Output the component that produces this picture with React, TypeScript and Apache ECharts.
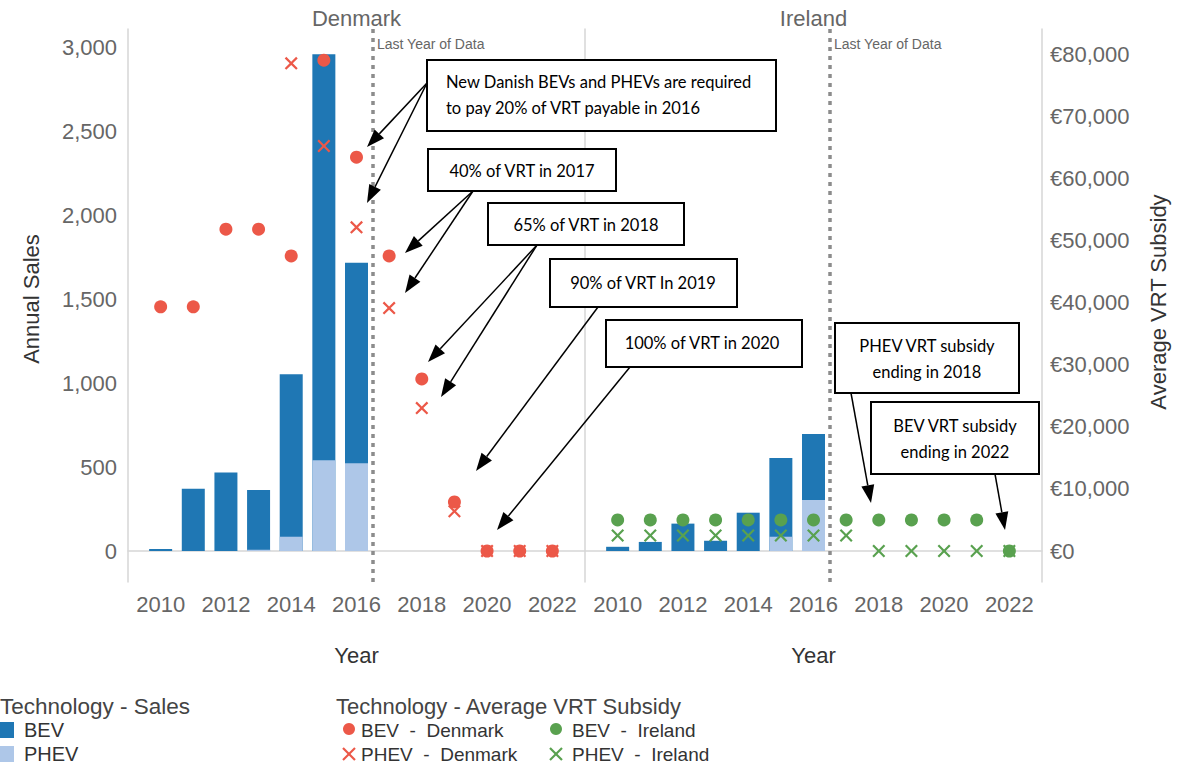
import React, { useEffect, useRef } from 'react';
import * as echarts from 'echarts';

// ---------- data ----------
const salesYears = [2010, 2011, 2012, 2013, 2014, 2015, 2016];
const dkBevSales = [12, 371, 468, 355, 967, 2417, 1194];
const dkPhevSales = [0, 0, 0, 8, 85, 540, 522];
const ieBevSales = [25, 54, 163, 61, 228, 469, 392];
const iePhevSales = [0, 0, 0, 0, 0, 85, 304];

const subsidyYears = [2010, 2011, 2012, 2013, 2014, 2015, 2016, 2017, 2018, 2019, 2020, 2021, 2022];
const dkBevSubsidy = [39300, 39300, 51800, 51800, 47500, 79000, 63400, 47500, 27700, 7900, 0, 0, 0];
const dkPhevSubsidy = [null, null, null, null, 78500, 65200, 52100, 39100, 23000, 6400, 0, 0, 0];
const ieBevSubsidy = [5000, 5000, 5000, 5000, 5000, 5000, 5000, 5000, 5000, 5000, 5000, 5000, 0];
const iePhevSubsidy = [2500, 2500, 2500, 2500, 2500, 2500, 2500, 2500, 0, 0, 0, 0, 0];

const lastDataYear = 2016.5;
const panelNames = ['Denmark', 'Ireland'];
const yearMin = 2009;
const yearMax = 2023;
const salesMax = 3000;
const salesStep = 500;
const subsidyMax = 80000;
const subsidyStep = 10000;

// ---------- style ----------
const FONT = '"Liberation Sans", Arial, sans-serif';
const ANN_FONT = 'Lato, "Open Sans", sans-serif';
const BLUE = '#1F77B4';
const LIGHT = '#AEC7E8';
const RED = '#EC5848';
const GREEN = '#59A14F';
const AXIS = '#d6d6d6';
const TICK = '#666666';
const XPATH = 'path://M0 12L12 0L50 38L88 0L100 12L62 50L100 88L88 100L50 62L12 100L0 88L38 50Z';

const pair = (xs: number[], ys: (number | null)[]) =>
  xs.map((x, i) => (ys[i] == null ? null : [x, ys[i]])).filter((d) => d !== null);
const total = (a: number[], b: number[]) => a.map((v, i) => v + b[i]);

const annotations = [
  { lines: ['New Danish BEVs and PHEVs are required', 'to pay 20% of VRT payable in 2016'], box: [427, 60, 349, 71], align: 'left', tx: 446, ty: [82, 108], arrows: [[427, 83, 367, 147], [427, 83, 367, 203]] },
  { lines: ['40% of VRT in 2017'], box: [428, 149, 188, 42], align: 'center', tx: 522, ty: [171], arrows: [[473, 191, 405, 253], [473, 191, 405, 293]] },
  { lines: ['65% of VRT in 2018'], box: [488, 203, 196, 42], align: 'center', tx: 586, ty: [225], arrows: [[537, 245, 428, 362], [537, 245, 441, 397]] },
  { lines: ['90% of VRT In 2019'], box: [550, 259, 187, 48], align: 'center', tx: 643, ty: [283], arrows: [[598, 307, 476, 471]] },
  { lines: ['100% of VRT in 2020'], box: [606, 320, 196, 47], align: 'center', tx: 702, ty: [343], arrows: [[630, 367, 497, 530]] },
  { lines: ['PHEV VRT subsidy', 'ending in 2018'], box: [835, 323, 184, 70], align: 'center', tx: 927, ty: [346, 372], arrows: [[851, 393, 871, 503]] },
  { lines: ['BEV VRT subsidy', 'ending in 2022'], box: [871, 402, 168, 72], align: 'center', tx: 955, ty: [426, 452], arrows: [[995, 474, 1005, 530]] },
];

function arrow(x1: number, y1: number, x2: number, y2: number) {
  const dx = x2 - x1, dy = y2 - y1;
  const len = Math.hypot(dx, dy);
  const ux = dx / len, uy = dy / len;
  const L = 18, W = 13;
  const bx = x2 - ux * L, by = y2 - uy * L;
  const nx = -uy, ny = ux;
  return [
    { type: 'line', z: 100, shape: { x1, y1, x2: bx, y2: by }, style: { stroke: '#000', lineWidth: 1.5 } },
    { type: 'polygon', z: 100, shape: { points: [[x2, y2], [bx + nx * W / 2, by + ny * W / 2], [bx - nx * W / 2, by - ny * W / 2]] }, style: { fill: '#000' } },
  ];
}

function txt(x: number, y: number, text: string, size: number, fill: string, align = 'left', family = FONT, rotation = 0) {
  return { type: 'text', x, y, rotation, z: 100, style: { text, fontSize: size, fontFamily: family, fill, align, verticalAlign: 'middle' } };
}

function xMark(cx: number, cy: number, s: number, color: string) {
  return [
    { type: 'line', z: 100, shape: { x1: cx - s, y1: cy - s, x2: cx + s, y2: cy + s }, style: { stroke: color, lineWidth: 2.2 } },
    { type: 'line', z: 100, shape: { x1: cx - s, y1: cy + s, x2: cx + s, y2: cy - s }, style: { stroke: color, lineWidth: 2.2 } },
  ];
}

function buildOption() {
  const PW = 457;
  const lefts = [128, 585];
  const grids: any[] = [];
  lefts.forEach((l) => grids.push({ left: l, top: 47, width: PW, height: 504 }));
  lefts.forEach((l) => grids.push({ left: l, top: 54, width: PW, height: 497 }));
  lefts.forEach((l) => grids.push({ left: l, top: 29, width: PW, height: 553 }));
  grids.forEach((g) => { g.containLabel = false; g.outerBoundsMode = 'none'; });

  const xAxes: any[] = grids.map((_, i) => ({
    type: 'value', gridIndex: i, min: yearMin, max: yearMax, interval: 1,
    show: i < 2,
    axisLine: { show: true, onZero: false, lineStyle: { color: AXIS, width: 1.5 } },
    axisTick: { show: false },
    splitLine: { show: false },
    axisLabel: {
      margin: 42, fontSize: 22, fontFamily: FONT, color: TICK,
      formatter: (v: number) => (v % 2 === 0 && v >= 2010 && v <= 2022 ? String(v) : ''),
    },
  }));

  const hidden = { show: false };
  const frameAxis = (gi: number, pos: string) => ({
    type: 'value', gridIndex: gi, position: pos, min: 0, max: 1,
    axisLine: { show: true, lineStyle: { color: AXIS, width: 1.5 } },
    axisTick: hidden, axisLabel: hidden, splitLine: hidden,
  });
  const yAxes: any[] = [
    {
      type: 'value', gridIndex: 0, min: 0, max: salesMax, interval: salesStep,
      axisLine: hidden, axisTick: hidden, splitLine: hidden,
      axisLabel: { margin: 11, fontSize: 22, fontFamily: FONT, color: TICK, formatter: (v: number) => v.toLocaleString('en-US') },
    },
    { type: 'value', gridIndex: 1, min: 0, max: salesMax, show: false },
    { type: 'value', gridIndex: 2, min: 0, max: subsidyMax, show: false },
    {
      type: 'value', gridIndex: 3, position: 'right', min: 0, max: subsidyMax, interval: subsidyStep,
      axisLine: hidden, axisTick: hidden, splitLine: hidden,
      axisLabel: { margin: 8, fontSize: 22, fontFamily: FONT, color: TICK, formatter: (v: number) => '€' + v.toLocaleString('en-US') },
    },
    frameAxis(4, 'left'),
    frameAxis(5, 'left'),
    frameAxis(5, 'right'),
  ];

  // BEV stacked on top of PHEV: dark bar spans the total, light bar overlays the PHEV part
  const bar = (xi: number, name: string, vals: number[], color: string, z: number) => ({
    type: 'bar', name, xAxisIndex: xi, yAxisIndex: xi, barWidth: 23, barGap: '-100%', z,
    itemStyle: { color }, data: pair(salesYears, vals),
  });
  const scat = (xi: number, name: string, vals: (number | null)[], color: string, isX: boolean) => ({
    type: 'scatter', name, xAxisIndex: xi, yAxisIndex: xi, z: isX ? 6 : 5, clip: false,
    symbol: isX ? XPATH : 'circle', symbolSize: 13,
    itemStyle: { color, opacity: 1 }, data: pair(subsidyYears, vals),
  });
  const frame = (xi: number, yi: number) => ({
    type: 'scatter', xAxisIndex: xi, yAxisIndex: yi, symbolSize: 0, silent: true,
    itemStyle: { opacity: 0 }, data: [[yearMin, 0]], z: 3,
    markLine: {
      silent: true, symbol: ['none', 'none'], label: { show: false },
      lineStyle: { color: '#8c8c8c', width: 3.5, type: [4, 5] },
      data: [{ xAxis: lastDataYear }],
    },
  });

  const series = [
    bar(0, 'BEV', total(dkBevSales, dkPhevSales), BLUE, 2),
    bar(0, 'PHEV', dkPhevSales, LIGHT, 3),
    bar(1, 'BEV', total(ieBevSales, iePhevSales), BLUE, 2),
    bar(1, 'PHEV', iePhevSales, LIGHT, 3),
    frame(4, 4),
    frame(5, 5),
    scat(2, 'BEV - Denmark', dkBevSubsidy, RED, false),
    scat(2, 'PHEV - Denmark', dkPhevSubsidy, RED, true),
    scat(3, 'BEV - Ireland', ieBevSubsidy, GREEN, false),
    scat(3, 'PHEV - Ireland', iePhevSubsidy, GREEN, true),
  ];

  const g: any[] = [];
  panelNames.forEach((n, i) => {
    g.push(txt(lefts[i] + PW / 2, 18, n, 22, '#666', 'center'));
    g.push(txt(lefts[i] + PW / 2, 655, 'Year', 22, '#333', 'center'));
  });
  g.push(txt(377, 44, 'Last Year of Data', 14, '#666'));
  g.push(txt(834, 44, 'Last Year of Data', 14, '#666'));
  g.push(txt(31, 299, 'Annual Sales', 22, '#333', 'center', FONT, Math.PI / 2));
  g.push(txt(1158, 302, 'Average VRT Subsidy', 22, '#333', 'center', FONT, Math.PI / 2));

  // legend
  g.push(txt(0, 706, 'Technology - Sales', 22.5, '#444'));
  g.push({ type: 'rect', shape: { x: 0, y: 722, width: 14, height: 16 }, style: { fill: BLUE } });
  g.push(txt(24, 730, 'BEV', 20, '#333'));
  g.push({ type: 'rect', shape: { x: 0, y: 746, width: 14, height: 16 }, style: { fill: LIGHT } });
  g.push(txt(24, 754, 'PHEV', 20, '#333'));
  g.push(txt(336, 706, 'Technology - Average VRT Subsidy', 22, '#444'));
  g.push({ type: 'circle', shape: { cx: 349, cy: 729, r: 6 }, style: { fill: RED } });
  g.push(txt(361, 730, 'BEV  -  Denmark', 19, '#333'));
  g.push(...xMark(349, 754, 6, RED));
  g.push(txt(361, 754, 'PHEV  -  Denmark', 19, '#333'));
  g.push({ type: 'circle', shape: { cx: 556, cy: 729, r: 6 }, style: { fill: GREEN } });
  g.push(txt(572, 730, 'BEV  -  Ireland', 19, '#333'));
  g.push(...xMark(556, 754, 6, GREEN));
  g.push(txt(572, 754, 'PHEV  -  Ireland', 19, '#333'));

  // annotations
  annotations.forEach((a) => {
    a.arrows.forEach((ar) => g.push(...arrow(ar[0], ar[1], ar[2], ar[3])));
    g.push({ type: 'rect', z: 101, shape: { x: a.box[0], y: a.box[1], width: a.box[2], height: a.box[3] }, style: { fill: '#fff', stroke: '#000', lineWidth: 2 } });
    a.lines.forEach((l, k) => {
      const t: any = txt(a.tx, a.ty[k], l, 16.5, '#000', a.align, ANN_FONT);
      t.z = 102;
      g.push(t);
    });
  });

  return {
    animation: false,
    backgroundColor: '#fff',
    grid: grids,
    xAxis: xAxes,
    yAxis: yAxes,
    series,
    graphic: g,
  };
}

export default function App() {
  const ref = useRef<HTMLDivElement>(null);
  useEffect(() => {
    const chart = echarts.init(ref.current as HTMLDivElement, null, { renderer: 'svg' });
    chart.setOption(buildOption() as any);
    return () => chart.dispose();
  }, []);
  return <div ref={ref} style={{ position: 'absolute', left: 0, top: 0, width: 1177, height: 766, background: '#fff' }} />;
}
